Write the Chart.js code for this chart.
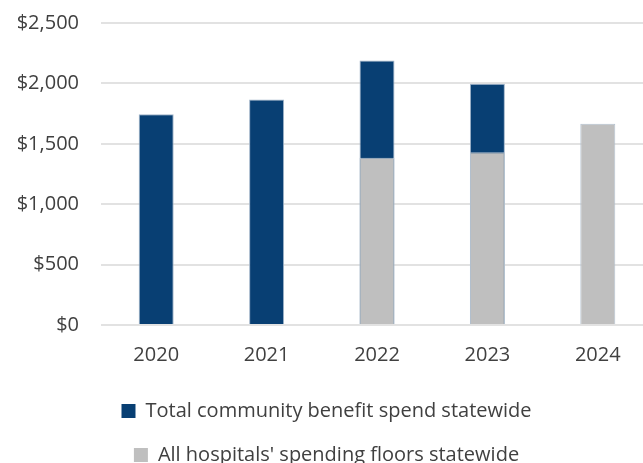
<!DOCTYPE html>
<html>
<head>
<meta charset="utf-8">
<script src="https://cdn.jsdelivr.net/npm/chart.js@4"></script>
<style>
  html, body { margin: 0; padding: 0; background: #fff; overflow: hidden; }
  #wrap { width: 653px; height: 475px; }
</style>
</head>
<body>
<div id="wrap"><canvas id="grafico"></canvas></div>
<script>
const anos = ['2020', '2021', '2022', '2023', '2024']
const gastoTotal = [1745, 1867, 2190, 1998, null]
const pisoGastos = [null, null, 1384, 1431, 1667]
const ticksY = [0, 500, 1000, 1500, 2000, 2500]

const corTexto = '#404040'
const fonte = 'Open Sans'

const grafico = document.getElementById('grafico')

let ctx = new Chart(grafico, {
  type: 'bar',
  data: {
    labels: anos,
    datasets: [{
      label: 'Total community benefit spend statewide',
      data: gastoTotal,
      backgroundColor: '#083f73',
      borderColor: '#9fb3c8',
      borderWidth: 1,
      grouped: false,
      order: 1
    }, {
      label: "All hospitals' spending floors statewide",
      data: pisoGastos,
      backgroundColor: '#bfbfbf',
      borderColor: '#b4c2d0',
      borderWidth: 1,
      grouped: false,
      order: 0
    }]
  },
  options: {
    responsive: true,
    maintainAspectRatio: false,
    animation: false,
    layout: { padding: { top: 23, left: 0, right: 0, bottom: 0 } },
    datasets: {
      bar: { categoryPercentage: 1, barPercentage: 0.317 }
    },
    scales: {
      x: {
        grid: { display: false },
        border: { display: false },
        ticks: { color: corTexto, font: { family: fonte, size: 20 }, padding: 10 }
      },
      y: {
        min: 0,
        max: 2500,
        afterFit: (s) => { s.width = 101 },
        afterBuildTicks: (s) => { s.ticks = ticksY.map(v => ({ value: v })) },
        border: { display: false },
        grid: { color: '#e2e2e2', lineWidth: 2, drawTicks: true, tickLength: 22, tickColor: 'rgba(0,0,0,0)' },
        ticks: {
          color: corTexto,
          font: { family: fonte, size: 20 },
          padding: 0,
          callback: (v) => '$' + v.toLocaleString('en-US')
        }
      }
    },
    plugins: {
      tooltip: { enabled: false },
      legend: {
        position: 'bottom',
        labels: {
          color: corTexto,
          font: { family: fonte, size: 20 },
          boxWidth: 14,
          boxHeight: 14,
          padding: 24,
          sort: (a, b) => a.datasetIndex - b.datasetIndex,
          generateLabels: (chart) => Chart.defaults.plugins.legend.labels.generateLabels(chart).map(l => ({ ...l, lineWidth: 0 }))
        }
      }
    }
  }
})
</script>
</body>
</html>
